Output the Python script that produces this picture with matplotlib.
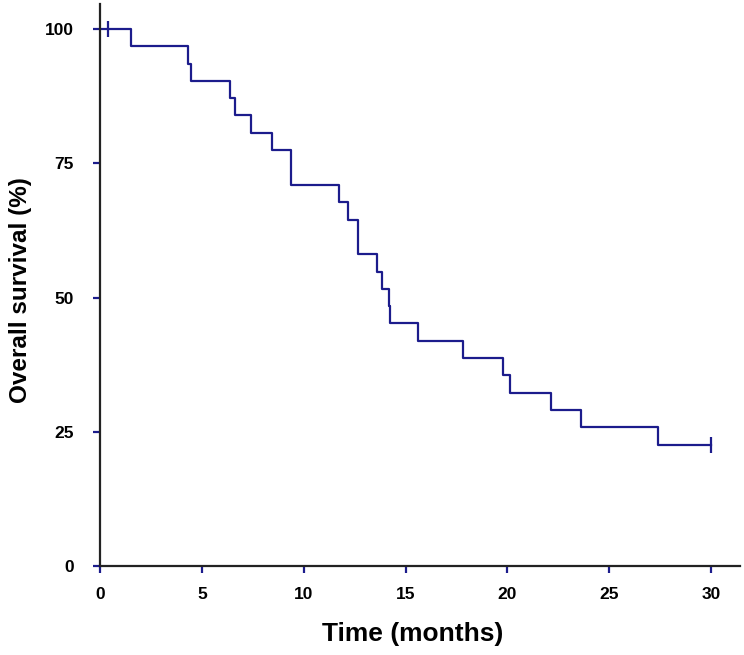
import numpy as np
import matplotlib
matplotlib.use("Agg")
import matplotlib.pyplot as plt

plt.rcParams['font.family'] = ['Liberation Sans', 'DejaVu Sans']

# Kaplan-Meier step curve
times = [0, 1.5, 4.3, 4.47, 6.38, 6.63, 7.4, 8.46, 9.38, 11.73, 12.16, 12.65,
         13.6, 13.83, 14.17, 14.25, 15.63, 17.8, 19.78, 20.14, 22.14, 23.6, 27.4, 30.0]
survival = [100, 96.8, 93.5, 90.3, 87.1, 83.9, 80.6, 77.4, 71.0, 67.7, 64.5, 58.1,
            54.8, 51.6, 48.4, 45.2, 41.9, 38.7, 35.5, 32.3, 29.0, 25.8, 22.6, 22.6]
censor_t = [0.38, 30.0]
censor_s = [100, 22.6]

line_col = "#1c1c8c"

fig = plt.figure(figsize=(7.44, 6.55), dpi=100)
ax = fig.add_axes([100/744, 1 - 566/655, 640/744, 562/655])

ax.step(times, survival, where="post", color=line_col, lw=1.6)
ax.plot(censor_t, censor_s, ls="none", marker="|", ms=11, mew=1.6, color=line_col)

ax.set_xlim(0, 640/20.37)
ax.set_ylim(0, 562/5.37)
ax.set_xticks([0, 5, 10, 15, 20, 25, 30])
ax.set_yticks([0, 25, 50, 75, 100])

for s in ["top", "right"]:
    ax.spines[s].set_visible(False)
for s in ["left", "bottom"]:
    ax.spines[s].set_linewidth(1.6)
    ax.spines[s].set_color("#222222")

ax.tick_params(direction="out", length=5, width=1.6, color=line_col, labelsize=12.5)
ax.tick_params(axis="x", pad=10)
ax.tick_params(axis="y", pad=14)
for lab in ax.get_xticklabels() + ax.get_yticklabels():
    lab.set_fontweight("bold")

ax.set_xlabel("Time (months)", fontsize=19, fontweight="bold")
ax.set_ylabel("Overall survival (%)", fontsize=17.5, fontweight="bold")
ax.xaxis.set_label_coords(0.489, -0.10)
ax.yaxis.set_label_coords(-0.106, 0.491)

plt.savefig("out.png")
